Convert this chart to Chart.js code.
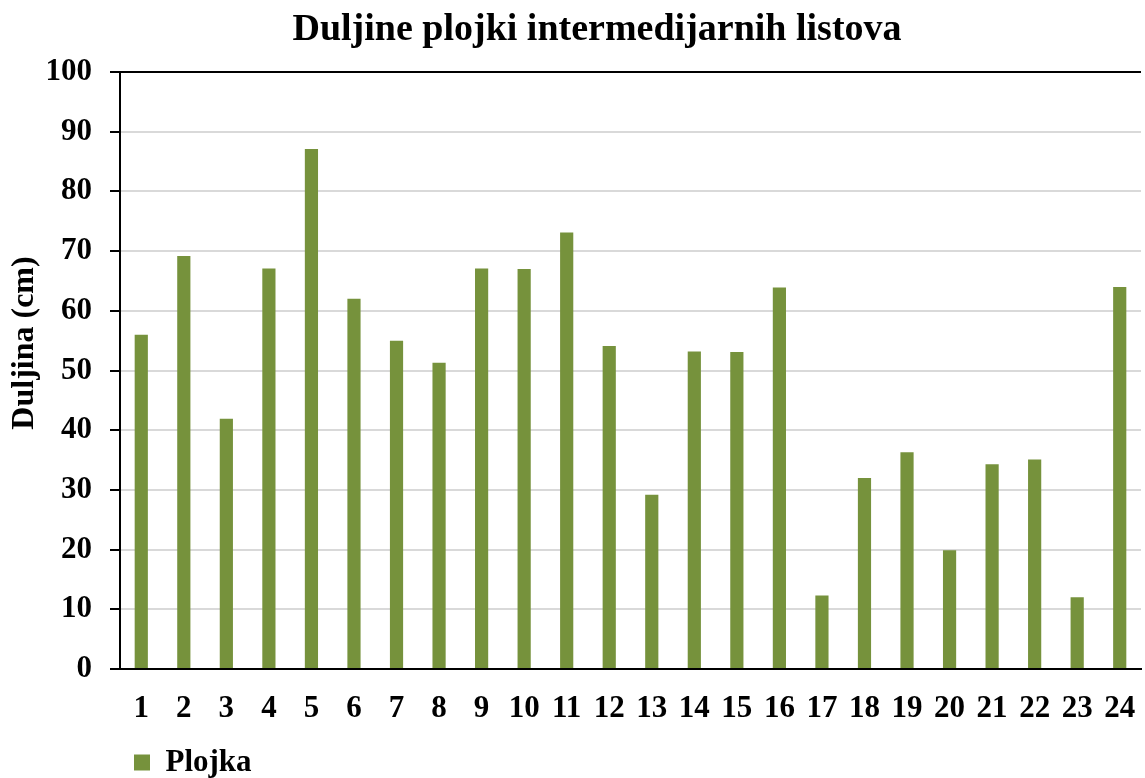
<!DOCTYPE html>
<html>
<head>
<meta charset="utf-8">
<script src="https://cdn.jsdelivr.net/npm/chart.js@4.4.0/dist/chart.umd.min.js"></script>
<style>
html,body{margin:0;padding:0;background:#fff;}
#wrap{width:1145px;height:778px;position:relative;}
</style>
</head>
<body>
<div id="wrap"><canvas id="c" width="1145" height="778"></canvas></div>
<script>
const categories = ['1','2','3','4','5','6','7','8','9','10','11','12','13','14','15','16','17','18','19','20','21','22','23','24'];
const plojkaValues = [56.0, 69.2, 41.9, 67.1, 87.1, 62.0, 55.0, 51.3, 67.1, 67.0, 73.1, 54.1, 29.2, 53.2, 53.1, 63.9, 12.3, 32.0, 36.3, 19.9, 34.3, 35.1, 12.0, 64.0];
const yTicks = [0, 10, 20, 30, 40, 50, 60, 70, 80, 90, 100];
const chartTitle = 'Duljine plojki intermedijarnih listova';
const yAxisTitle = 'Duljina (cm)';
const seriesName = 'Plojka';

const FONT = '"Liberation Serif", "Times New Roman", serif';
const BAR_COLOR = '#76923C';

const textPlugin = {
  id: 'textPlugin',
  afterDraw(chart) {
    const ctx = chart.ctx;
    ctx.save();
    ctx.fillStyle = '#000';
    ctx.font = 'bold 38px ' + FONT;
    ctx.textAlign = 'center';
    ctx.textBaseline = 'alphabetic';
    ctx.fillText(chartTitle, 597, 40);
    ctx.translate(25, 343);
    ctx.rotate(-Math.PI / 2);
    ctx.font = 'bold 32px ' + FONT;
    ctx.textBaseline = 'middle';
    ctx.fillText(yAxisTitle, 0, 0);
    ctx.restore();
  }
};

new Chart(document.getElementById('c'), {
  type: 'bar',
  data: {
    labels: categories,
    datasets: [{
      label: seriesName,
      data: plojkaValues,
      backgroundColor: BAR_COLOR,
      borderWidth: 0,
      barPercentage: 0.31,
      categoryPercentage: 1.0
    }]
  },
  options: {
    responsive: false,
    animation: false,
    devicePixelRatio: 1,
    layout: { padding: { top: 72, left: 0, right: 4, bottom: -10 } },
    plugins: {
      title: { display: false },
      tooltip: { enabled: false },
      legend: {
        display: true,
        position: 'bottom',
        align: 'start',
        fullSize: false,
        labels: {
          color: '#000',
          font: { family: FONT, size: 31, weight: 'bold' },
          boxWidth: 16,
          boxHeight: 16,
          padding: 14
        }
      }
    },
    scales: {
      x: {
        grid: { display: false, drawTicks: true, tickLength: 21 },
        border: { display: true, color: '#000', width: 2 },
        ticks: {
          color: '#000',
          font: { family: FONT, size: 31, weight: 'bold' },
          padding: 0,
          maxRotation: 0,
          autoSkip: false
        },
        afterFit(scale) { scale.height = 64; }
      },
      y: {
        min: 0,
        max: 100,
        afterBuildTicks(scale) { scale.ticks = yTicks.map(v => ({ value: v })); },
        grid: {
          color: ctx => (ctx.tick && ctx.tick.value === 100) ? '#000' : '#d9d9d9',
          lineWidth: 2,
          tickColor: '#000',
          tickLength: 10,
          drawTicks: true
        },
        border: { display: true, color: '#000', width: 2 },
        ticks: {
          color: '#000',
          font: { family: FONT, size: 31, weight: 'bold' },
          padding: 18
        },
        afterFit(scale) { scale.width = 120; }
      }
    }
  },
  plugins: [textPlugin]
});
</script>
</body>
</html>
